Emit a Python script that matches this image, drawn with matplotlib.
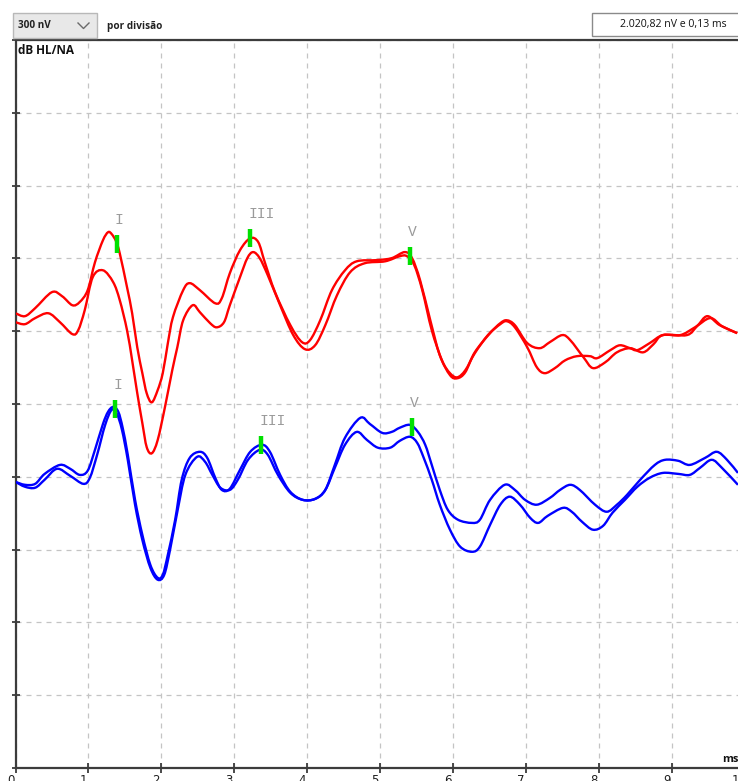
import numpy as np
import matplotlib
matplotlib.use("Agg")
import matplotlib.pyplot as plt
from matplotlib.path import Path
from matplotlib.patches import PathPatch, Rectangle
from matplotlib.lines import Line2D
import matplotlib.transforms as mtransforms

# ---------------- recording settings ----------------
nv_per_division = 300
n_divisions = 10
time_ticks = list(range(0, 11))
time_tick_labels = [str(t) for t in time_ticks]

scale_label = "300 nV"
scale_caption = "por divisão"
cursor_readout = "2.020,82 nV e 0,13 ms"
y_title = "dB HL/NA"
x_unit = "ms"

# channel baselines (nV on the display scale)
red_baseline_nv = 1800
blue_baseline_nv = 1200

# ---------------- red channel, two sweeps ----------------
red_a_ms = [0.00, 0.13, 0.27, 0.50, 0.64, 0.78, 0.88, 0.99, 1.09, 1.20, 1.27, 1.32,
            1.38, 1.43, 1.53, 1.60, 1.67, 1.74, 1.80, 1.87, 1.95, 2.02, 2.09, 2.16,
            2.30, 2.39, 2.53, 2.74, 2.83, 2.94, 3.08, 3.22, 3.33, 3.42, 3.56, 3.77,
            3.93, 4.04, 4.18, 4.34, 4.52, 4.68, 4.96, 5.16, 5.34, 5.44, 5.55, 5.69,
            5.82, 5.96, 6.06, 6.17, 6.30, 6.51, 6.65, 6.74, 6.85, 7.02, 7.19, 7.33,
            7.50, 7.61, 7.79, 7.92, 8.09, 8.25, 8.43, 8.61, 8.75, 8.88, 9.21, 9.35,
            9.49, 9.66, 9.90]
red_a_nv = [74, 62, 95, 161, 144, 107, 120, 169, 284, 375, 408, 400,
            370, 321, 181, 74, -66, -173, -256, -293, -243, -173, -49, 58,
            169, 198, 169, 115, 136, 239, 334, 383, 367, 284, 161, 25,
            -45, -37, 45, 169, 251, 288, 293, 301, 326, 301, 210, 45,
            -99, -181, -194, -169, -87, -8, 33, 45, 25, -49, -70, -45,
            -16, -37, -107, -152, -128, -87, -70, -87, -54, -16, -16, 21,
            62, 25, -8]

red_b_ms = [0.00, 0.13, 0.27, 0.45, 0.61, 0.78, 0.86, 0.95, 1.06, 1.20, 1.34, 1.43,
            1.53, 1.60, 1.67, 1.74, 1.80, 1.87, 1.95, 2.05, 2.15, 2.22, 2.30, 2.43,
            2.53, 2.67, 2.76, 2.86, 2.94, 3.08, 3.18, 3.26, 3.35, 3.46, 3.63, 3.81,
            3.97, 4.11, 4.25, 4.41, 4.59, 4.79, 5.07, 5.27, 5.37, 5.47, 5.58, 5.71,
            5.85, 5.96, 6.06, 6.17, 6.30, 6.48, 6.65, 6.74, 6.85, 7.02, 7.15, 7.26,
            7.40, 7.54, 7.70, 7.88, 7.98, 8.16, 8.29, 8.43, 8.53, 8.70, 8.88, 9.12,
            9.32, 9.53, 9.69, 9.90]
red_b_nv = [37, 29, 54, 74, 37, -12, 4, 87, 223, 251, 202, 128,
            4, -120, -255, -379, -478, -503, -449, -313, -161, -66, 45, 107,
            78, 33, 16, 37, 107, 223, 301, 326, 301, 231, 107, -16,
            -74, -58, 25, 148, 243, 280, 288, 309, 309, 272, 169, 4,
            -120, -173, -190, -161, -91, -16, 29, 41, 16, -66, -148, -173,
            -152, -120, -103, -103, -111, -78, -58, -70, -78, -49, -16, -16,
            16, 54, 21, -8]

# ---------------- blue channel, two sweeps ----------------
blue_a_ms = [0.00, 0.13, 0.27, 0.40, 0.61, 0.75, 0.88, 0.99, 1.09, 1.20, 1.27, 1.34,
             1.41, 1.47, 1.54, 1.64, 1.74, 1.85, 1.95, 2.02, 2.09, 2.19, 2.28, 2.39,
             2.53, 2.63, 2.74, 2.83, 2.94, 3.08, 3.22, 3.38, 3.49, 3.63, 3.77, 3.94,
             4.11, 4.25, 4.38, 4.52, 4.73, 4.86, 5.03, 5.16, 5.27, 5.41, 5.52, 5.62,
             5.71, 5.82, 5.93, 6.07, 6.26, 6.37, 6.51, 6.71, 6.85, 6.99, 7.15, 7.33,
             7.47, 7.61, 7.74, 7.95, 8.11, 8.25, 8.39, 8.57, 8.77, 8.91, 9.09, 9.25,
             9.46, 9.62, 9.76, 9.91]
blue_a_nv = [-21, -33, -29, 12, 49, 33, 8, 25, 111, 218, 268, 288,
             268, 202, 91, -95, -239, -363, -416, -404, -321, -177, -12, 78,
             103, 78, -4, -54, -49, 29, 103, 132, 103, 8, -62, -95,
             -91, -54, 49, 161, 243, 218, 181, 185, 202, 214, 185, 132,
             49, -54, -136, -177, -190, -177, -95, -33, -54, -95, -115, -87,
             -54, -33, -54, -115, -144, -115, -74, -12, 49, 70, 66, 49,
             78, 103, 70, 16]

blue_b_ms = [0.00, 0.13, 0.27, 0.40, 0.57, 0.75, 0.93, 1.02, 1.12, 1.23, 1.32, 1.39,
             1.46, 1.54, 1.64, 1.74, 1.85, 1.95, 2.04, 2.12, 2.22, 2.33, 2.49, 2.60,
             2.70, 2.81, 2.94, 3.05, 3.19, 3.35, 3.46, 3.60, 3.77, 3.94, 4.11, 4.25,
             4.38, 4.52, 4.68, 4.82, 4.97, 5.14, 5.27, 5.41, 5.51, 5.60, 5.71, 5.82,
             5.96, 6.10, 6.26, 6.37, 6.51, 6.65, 6.78, 6.92, 7.06, 7.17, 7.30, 7.51,
             7.63, 7.77, 7.92, 8.06, 8.19, 8.36, 8.53, 8.70, 8.88, 9.09, 9.25, 9.39,
             9.55, 9.69, 9.91]
blue_b_nv = [-21, -41, -45, -12, 33, 4, -29, -4, 91, 214, 276, 260,
             194, 70, -115, -260, -375, -424, -404, -301, -144, 8, 82, 62,
             8, -45, -54, -12, 70, 111, 91, 8, -66, -95, -91, -54,
             37, 132, 185, 152, 120, 120, 148, 165, 140, 78, -12, -115,
             -218, -288, -309, -288, -198, -115, -82, -115, -169, -190, -161, -128,
             -144, -185, -218, -202, -148, -95, -41, -4, 16, 12, 8, 37,
             70, 37, -33]

# ---------------- wave labels (latency, ms) ----------------
red_peak_names = ["I", "III", "V"]
red_peak_ms = [1.39, 3.22, 5.41]
blue_peak_names = ["I", "III", "V"]
blue_peak_ms = [1.37, 3.37, 5.44]

RED = "#ff0000"
BLUE = "#0000ff"
GREEN = "#00e000"
GRID = "#c4c4c4"
SPINE = "#3c3c3c"

W, H = 738, 781
fig = plt.figure(figsize=(W / 100, H / 100), dpi=100)
fig.patch.set_facecolor("white")


def fx(px):
    return px / W


def fy(py):
    return 1 - py / H


# the plot area runs off the right edge, so 10 ms sits just outside
ax = fig.add_axes([fx(15.5), fy(768), 729 / W, 728 / H])
ax.set_xlim(0, 10)
ax.set_ylim(0, nv_per_division * n_divisions)

ax.set_xticks(time_ticks)
ax.set_xticklabels(time_tick_labels)
ax.set_yticks(np.arange(0, nv_per_division * n_divisions + 1, nv_per_division))
ax.set_yticklabels([])
ax.grid(True, color=GRID, linestyle=(0, (4, 4)), linewidth=0.9)
ax.set_axisbelow(True)
ax.tick_params(axis="x", direction="inout", length=7, width=1.3, color=SPINE,
               pad=0.5, labelsize=8.5, labelcolor="#202020")
ax.tick_params(axis="y", direction="inout", length=5.5, width=1.3, color=SPINE)
shift = mtransforms.ScaledTranslation(-5 / 100, 0, fig.dpi_scale_trans)
for lab in ax.get_xticklabels():
    lab.set_transform(lab.get_transform() + shift)

for side in ("left", "bottom", "top"):
    ax.spines[side].set_color(SPINE)
    ax.spines[side].set_linewidth(1.6)
ax.spines["right"].set_visible(False)


def smooth_path(t, v):
    """Catmull-Rom curve through the sampled points, as cubic Bezier segments."""
    pts = np.column_stack([t, v]).astype(float)
    ext = np.vstack([pts[0], pts, pts[-1]])
    verts = [pts[0]]
    codes = [Path.MOVETO]
    for i in range(len(pts) - 1):
        p0, p1, p2, p3 = ext[i], ext[i + 1], ext[i + 2], ext[i + 3]
        verts += [p1 + (p2 - p0) / 6, p2 - (p3 - p1) / 6, p2]
        codes += [Path.CURVE4] * 3
    return Path(verts, codes)


def draw_trace(t, v, base, color):
    y = np.asarray(v, float) + base
    patch = PathPatch(smooth_path(t, y), fill=False, edgecolor=color,
                      linewidth=1.7, transform=ax.transData, zorder=3)
    ax.add_patch(patch)


draw_trace(red_a_ms, red_a_nv, red_baseline_nv, RED)
draw_trace(red_b_ms, red_b_nv, red_baseline_nv, RED)
draw_trace(blue_a_ms, blue_a_nv, blue_baseline_nv, BLUE)
draw_trace(blue_b_ms, blue_b_nv, blue_baseline_nv, BLUE)

half_mark = 37  # nV, half height of a latency marker


def draw_peaks(names, lats, t, v, base):
    for name, lat in zip(names, lats):
        y = np.interp(lat, t, v) + base
        ax.plot([lat, lat], [y - half_mark, y + half_mark], color=GREEN,
                linewidth=3.2, solid_capstyle="butt", zorder=5)
        ax.annotate(name, xy=(lat, y + half_mark), xytext=(-2, 8),
                    textcoords="offset pixels", ha="left", va="bottom",
                    fontsize=10.5, family="Liberation Mono", color="#9a9a9a",
                    zorder=6)


draw_peaks(red_peak_names, red_peak_ms, red_a_ms, red_a_nv, red_baseline_nv)
draw_peaks(blue_peak_names, blue_peak_ms, blue_a_ms, blue_a_nv, blue_baseline_nv)

# axis captions
fig.text(fx(18), fy(51), y_title, fontsize=8.5, fontweight="bold",
         family="Open Sans", va="center", ha="left", color="#111111")
fig.text(fx(722), fy(760), x_unit, fontsize=8, fontweight="bold",
         family="Open Sans", va="center", ha="left", color="#111111")

# ---------------- header controls ----------------
fig.add_artist(Rectangle((fx(13), fy(38)), (97 - 13) / W, 25 / H,
                         transform=fig.transFigure, facecolor="#e8e8e8",
                         edgecolor="#b8b8b8", linewidth=1))
fig.add_artist(Line2D([fx(78), fx(83.5), fx(89)], [fy(23), fy(28.5), fy(23)],
                      transform=fig.transFigure, color="#6a6a6a", linewidth=1))
fig.text(fx(18), fy(26), scale_label, fontsize=7.2, fontweight="bold",
         family="Open Sans", va="center", ha="left", color="#222222")
fig.text(fx(107), fy(26), scale_caption, fontsize=7.2, fontweight="bold",
         family="Open Sans", va="center", ha="left", color="#222222")

fig.add_artist(Rectangle((fx(592), fy(36)), 160 / W, 23 / H,
                         transform=fig.transFigure, facecolor="white",
                         edgecolor="#8a8a8a", linewidth=1))
fig.text(fx(620), fy(25), cursor_readout, fontsize=7.6,
         family="Open Sans", va="center", ha="left", color="#111111")

fig.savefig("out.png", dpi=100, facecolor="white")
